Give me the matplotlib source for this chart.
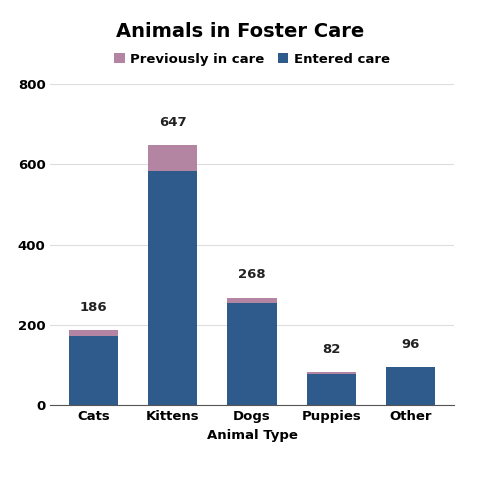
import matplotlib.pyplot as plt
import numpy as np

animals = ["Cats", "Kittens", "Dogs", "Puppies", "Other"]
entered = [173, 584, 254, 78, 96]
previous = [13, 63, 14, 4, 0]
totals = [186, 647, 268, 82, 96]

fig, ax = plt.subplots(figsize=(4.8, 4.8), dpi=100)
x = np.arange(len(animals))
ax.bar(x, entered, width=0.62, color="#2e5b8c", label="Entered care", zorder=2)
ax.bar(x, previous, width=0.62, bottom=entered, color="#b385a3",
       label="Previously in care", zorder=2)
for xi, t in zip(x, totals):
    ax.text(xi, t + 40, str(t), ha="center", va="bottom",
            fontsize=9.5, fontweight="bold", color="#222222")

ax.set_ylim(0, 800)
ax.set_yticks([0, 200, 400, 600, 800])
ax.set_xticks(x)
ax.set_xticklabels(animals, fontsize=9.5, fontweight="bold")
ax.tick_params(axis="y", labelsize=9.5, length=0)
for lab in ax.get_yticklabels():
    lab.set_fontweight("bold")
ax.tick_params(axis="x", length=0)
ax.grid(axis="y", color="#dddddd", zorder=0)
for s in ["top", "right", "left"]:
    ax.spines[s].set_visible(False)
ax.spines["bottom"].set_color("#555555")
ax.set_xlabel("Animal Type", fontsize=9.5, fontweight="bold")

handles, labels = ax.get_legend_handles_labels()
ax.legend(handles[::-1], labels[::-1], loc="lower center", bbox_to_anchor=(0.5, 1.02),
          ncol=2, frameon=False, handlelength=0.8, handleheight=0.8,
          columnspacing=1.0, handletextpad=0.4, prop={"weight": "bold", "size": 9.5})
fig.suptitle("Animals in Foster Care", fontsize=14, fontweight="bold", y=0.955)
fig.subplots_adjust(left=0.105, right=0.945, top=0.825, bottom=0.156)
fig.savefig("out.png")
